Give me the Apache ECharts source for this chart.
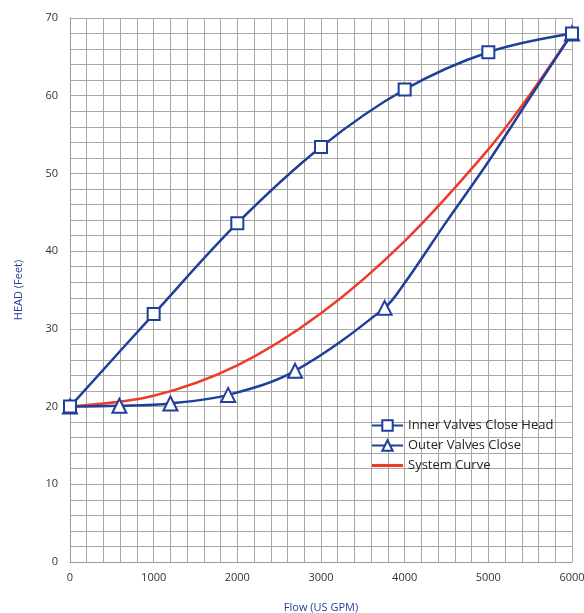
<!DOCTYPE html>
<html><head><meta charset="utf-8">
<script src="https://cdn.jsdelivr.net/npm/echarts@6/dist/echarts.min.js"></script>
<style>html,body{margin:0;padding:0;background:#fff}#c{width:584px;height:613px}</style>
</head><body><div id="c"></div>
<script>
// Inner valves close head (square markers at every point)
const innerFlow = [0, 1000, 2000, 3000, 4000, 5000, 6000];
const innerHead = [20, 31.9, 43.6, 53.4, 60.8, 65.6, 68];
// Outer valves close (triangle markers where marked = true; other points)
const outerFlow = [0, 590, 1200, 1890, 2690, 3760, 4000, 4500, 5000, 5500, 6000];
const outerHead = [20, 20.1, 20.4, 21.5, 24.6, 32.7, 35.9, 43.8, 51.5, 59.8, 68];
const outerMarked = [true, true, true, true, true, true, false, false, false, false, true];
// System curve (no markers)
const sysFlow = [0, 1000, 2000, 3000, 4000, 5000, 5500, 6000];
const sysHead = [20, 21.4, 25.3, 32, 41.3, 53.1, 60.2, 68];
const xTicks = [0, 1000, 2000, 3000, 4000, 5000, 6000];
const yTicks = [0, 10, 20, 30, 40, 50, 60, 70];

const BLUE = '#1f3f99', RED = '#ee3b2c';
const zip = (a, b) => a.map((v, i) => [v, b[i]]);
const chart = echarts.init(document.getElementById('c'));
chart.setOption({
  animation: false,
  grid: {left: 70, right: 12, top: 18, bottom: 51, containLabel: false, outerBoundsMode: 'none'},
  legend: {
    left: 366, top: 414, orient: 'vertical', itemGap: 7, itemWidth: 31, itemHeight: 13,
    textStyle: {color: '#222', fontSize: 13, fontFamily: 'Open Sans'},
    data: [
      {name: 'Inner Valves Close Head'},
      {name: 'Outer Valves Close'},
      {name: 'System Curve', icon: 'path://M0,0 L30,0 L30,3 L0,3 Z'}
    ]
  },
  xAxis: {
    type: 'value', min: 0, max: 6000, interval: 200,
    name: 'Flow (US GPM)', nameLocation: 'middle', nameGap: 40,
    nameTextStyle: {color: BLUE, fontSize: 11, fontFamily: 'Open Sans'},
    axisLine: {show: true, lineStyle: {color: '#999'}},
    axisTick: {show: false},
    axisLabel: {color: '#333', fontSize: 11, fontFamily: 'Open Sans', margin: 10,
      formatter: v => xTicks.includes(v) ? String(v) : ''},
    splitLine: {show: true, lineStyle: {color: '#a8a8a8', width: 1}}
  },
  yAxis: {
    type: 'value', min: 0, max: 70, interval: 2,
    name: 'HEAD (Feet)', nameLocation: 'middle', nameGap: 46,
    nameTextStyle: {color: BLUE, fontSize: 11, fontFamily: 'Open Sans'},
    axisLine: {show: true, lineStyle: {color: '#999'}},
    axisTick: {show: false},
    axisLabel: {color: '#333', fontSize: 11, fontFamily: 'Open Sans', margin: 12,
      formatter: v => yTicks.includes(v) ? String(v) : ''},
    splitLine: {show: true, lineStyle: {color: '#a8a8a8', width: 1}}
  },
  series: [
    {name: 'System Curve', type: 'line', smooth: 0.35, showSymbol: false, symbol: 'none',
      data: zip(sysFlow, sysHead), lineStyle: {color: RED, width: 2.5}, itemStyle: {color: RED}, z: 3},
    {name: 'Outer Valves Close', type: 'line', smooth: 0.35, symbol: 'emptyTriangle', symbolSize: 14,
      data: outerFlow.map((f, i) => outerMarked[i] ? [f, outerHead[i]] : {value: [f, outerHead[i]], symbol: 'none'}),
      lineStyle: {color: BLUE, width: 2.5},
      itemStyle: {color: BLUE, borderWidth: 1.5}, z: 4},
    {name: 'Inner Valves Close Head', type: 'line', smooth: 0.35, symbol: 'emptyRect', symbolSize: 12,
      data: zip(innerFlow, innerHead), lineStyle: {color: BLUE, width: 2.5},
      itemStyle: {color: BLUE, borderWidth: 1.5}, z: 5}
  ]
});
</script></body></html>
